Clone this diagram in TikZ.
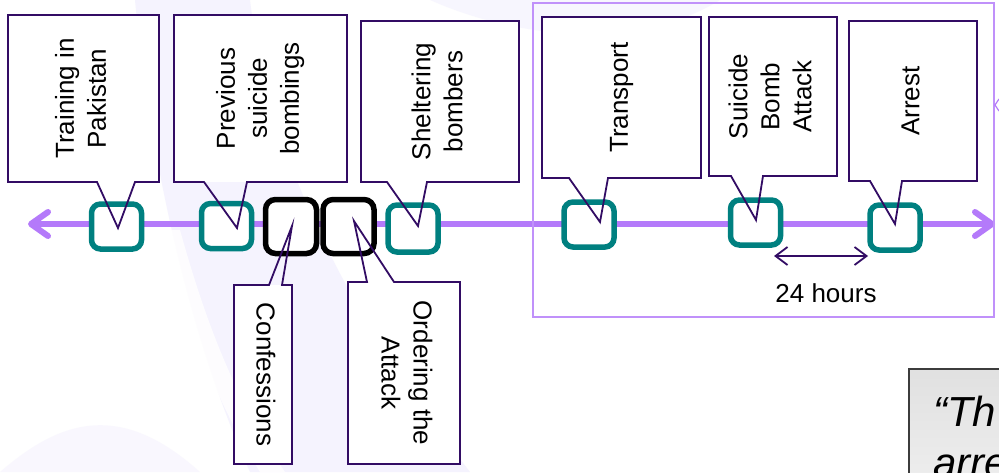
\documentclass[tikz,border=0pt]{standalone}
\usepackage{fontspec}
\setmainfont{Liberation Sans}
\usetikzlibrary{arrows.meta,calc}
\definecolor{tlc}{RGB}{180,122,250}
\definecolor{framec}{RGB}{192,145,250}
\definecolor{dp}{RGB}{50,12,100}
\definecolor{tealc}{RGB}{0,128,128}
\definecolor{bgl}{RGB}{245,243,254}
\definecolor{qgray}{RGB}{60,60,60}
\begin{document}
\begin{tikzpicture}[x=1pt,y=-1pt,
  tealbox/.style={draw=tealc,line width=5.5pt,fill=white,rounded corners=9pt,minimum width=50pt,minimum height=45pt,inner sep=0pt,outer sep=0pt},
  blackbox/.style={draw=black,line width=5.5pt,fill=white,rounded corners=10pt,minimum width=51pt,minimum height=54pt,inner sep=0pt,outer sep=0pt},
  callout/.style={fill=white,inner sep=0pt,outer sep=0pt,font=\fontsize{26}{32}\selectfont},
  outline/.style={draw=dp,line width=1.8pt,line join=miter},
  timeline/.style={draw=tlc,line width=6pt,{Straight Barb[length=17pt,width=24pt,round]}-{Straight Barb[length=17pt,width=24pt,round]}},
  spanarrow/.style={draw=dp,line width=1.8pt,{Straight Barb[length=12pt,width=18pt]}-{Straight Barb[length=12pt,width=18pt]}},
  lbl/.style={font=\fontsize{26}{30}\selectfont,inner sep=0pt},
  quotebox/.style={draw=qgray,line width=1.5pt,top color=black!12,bottom color=black!6,inner sep=0pt,outer sep=0pt},
  quotetext/.style={font=\fontsize{42}{50}\selectfont\itshape,inner sep=0pt}
]
\useasboundingbox (0,0) rectangle (999,472);
\clip (0,0) rectangle (999,472);
\fill[white] (0,0) rectangle (999,472);
% faint background swirl
\fill[bgl] (135,0) .. controls (150,160) and (190,340) .. (250,472) -- (470,472) .. controls (360,330) and (270,170) .. (250,0) -- cycle;
\fill[bgl,opacity=0.7] (430,0) .. controls (520,40) and (640,50) .. (720,0) -- cycle;
\fill[bgl,opacity=0.6] (0,472) .. controls (60,420) and (120,400) .. (200,472) -- cycle;
\fill[white,opacity=0.8] (165,230) .. controls (185,320) and (215,400) .. (260,472) -- (285,472) .. controls (235,400) and (205,320) .. (180,230) -- cycle;

% timeline
\coordinate (L) at (28,224);
\coordinate (R) at (995,224);
\draw[timeline] (L) -- (R);

% frame
\node[draw=framec,line width=1.5pt,inner sep=0pt,outer sep=0pt,minimum width=461pt,minimum height=314pt] (frame) at (763.5,160) {};
\draw[tlc,line width=1.2pt] (999,99) -- (995,105) -- (999,111);

% event boxes
\node[tealbox] (t1) at (116.5,226.5) {};
\node[tealbox] (t2) at (226.5,226) {};
\node[blackbox] (b1) at (291,226.5) {};
\node[blackbox] (b2) at (348.5,226.5) {};
\node[tealbox,minimum height=47pt] (t3) at (413,228.5) {};
\node[tealbox] (t4) at (589,224.5) {};
\node[tealbox] (t5) at (755.5,222.5) {};
\node[tealbox] (t6) at (895,227.5) {};

% callouts (top)
\node[callout,minimum width=151pt,minimum height=167pt] (c1) at (83.5,98.5)
  {\rotatebox{90}{\begin{tabular}{@{}c@{}}Training in\\Pakistan\end{tabular}}};
\node[callout,minimum width=173pt,minimum height=167pt] (c2) at (260.5,98.5)
  {\rotatebox{90}{\begin{tabular}{@{}c@{}}Previous\\suicide\\bombings\end{tabular}}};
\node[callout,minimum width=158pt,minimum height=161pt] (c3) at (440,101.5)
  {\rotatebox{90}{\begin{tabular}{@{}c@{}}Sheltering\\bombers\end{tabular}}};
\node[callout,minimum width=159pt,minimum height=161pt] (c4) at (621.5,97.5)
  {\rotatebox{90}{\begin{tabular}{@{}c@{}}Transport\end{tabular}}};
\node[callout,minimum width=128pt,minimum height=159pt] (c5) at (773,96.5)
  {\rotatebox{90}{\begin{tabular}{@{}c@{}}Suicide\\Bomb\\Attack\end{tabular}}};
\node[callout,minimum width=128pt,minimum height=160pt] (c6) at (913,101)
  {\rotatebox{90}{\begin{tabular}{@{}c@{}}Arrest\end{tabular}}};
% callouts (bottom)
\node[callout,minimum width=58pt,minimum height=179pt] (c7) at (263,374.5)
  {\rotatebox{-90}{\begin{tabular}{@{}c@{}}Confessions\end{tabular}}};
\node[callout,minimum width=112pt,minimum height=182pt] (c8) at (404,373)
  {\rotatebox{-90}{\begin{tabular}{@{}c@{}}Ordering the\\Attack\end{tabular}}};

% callout outlines with pointers
\draw[outline] (c1.north west) -- (c1.north east) -- (c1.south east) -- ([xshift=51.5pt]c1.south)
  -- ([shift={(1.5,1.5)}]t1.center) -- ([xshift=13.5pt]c1.south) -- (c1.south west) -- cycle;
\draw[outline] (c2.north west) -- (c2.north east) -- (c2.south east) -- ([xshift=-13.5pt]c2.south)
  -- ([shift={(10.5,2)}]t2.center) -- ([xshift=-56.5pt]c2.south) -- (c2.south west) -- cycle;
\draw[outline] (c3.north west) -- (c3.north east) -- (c3.south east) -- ([xshift=-13pt]c3.south)
  -- ([shift={(5,-2.5)}]t3.center) -- ([xshift=-53pt]c3.south) -- (c3.south west) -- cycle;
\draw[outline] (c4.north west) -- (c4.north east) -- (c4.south east) -- ([xshift=-13.5pt]c4.south)
  -- ([shift={(11,-2.5)}]t4.center) -- ([xshift=-52.5pt]c4.south) -- (c4.south west) -- cycle;
\draw[outline] (c5.north west) -- (c5.north east) -- (c5.south east) -- ([xshift=-10pt]c5.south)
  -- ([shift={(0.5,-2.5)}]t5.center) -- ([xshift=-42pt]c5.south) -- (c5.south west) -- cycle;
\draw[outline] (c6.north west) -- (c6.north east) -- (c6.south east) -- ([xshift=-11pt]c6.south)
  -- ([shift={(0,-3.5)}]t6.center) -- ([xshift=-43pt]c6.south) -- (c6.south west) -- cycle;
\draw[outline] (c7.south west) -- (c7.south east) -- (c7.north east) -- ([xshift=19pt]c7.north)
  -- ([shift={(1,-0.5)}]b1.center) -- ([xshift=6pt]c7.north) -- (c7.north west) -- cycle;
\draw[outline] (c8.south west) -- (c8.south east) -- (c8.north east) -- ([xshift=-10pt]c8.north)
  -- ([shift={(5.5,-5.5)}]b2.center) -- ([xshift=-37pt]c8.north) -- (c8.north west) -- cycle;

% 24 hours span
\coordinate (h1) at (774,256);
\coordinate (h2) at (868,256);
\draw[spanarrow] (h1) -- (h2);
\node[lbl] (hrs) at (826,293) {24 hours};

% quote box (cut by the picture edge)
\node[quotebox,anchor=north west,minimum width=120pt,minimum height=130pt] (qb) at (909,369) {};
\node[quotetext,anchor=base west] (q1) at (933,426) {“Th};
\node[quotetext,anchor=base west] (q2) at (933,477) {arre};
\end{tikzpicture}
\end{document}
